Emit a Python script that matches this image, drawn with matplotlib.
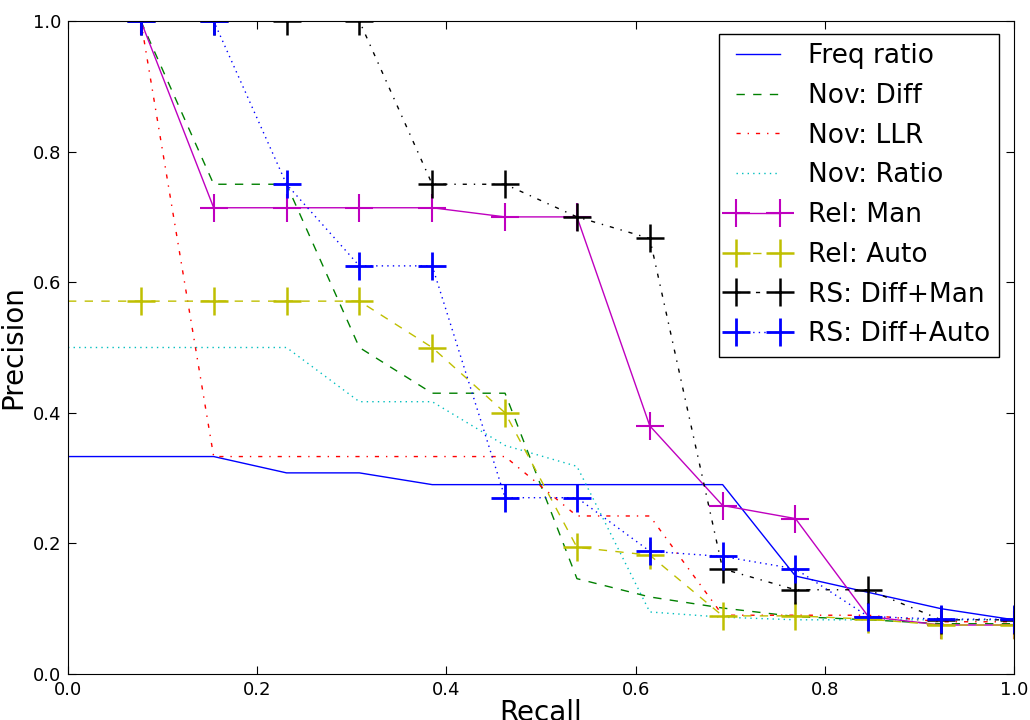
#!/usr/bin/env python

import matplotlib
matplotlib.use('agg')
import matplotlib.pyplot as plt

plt.rcParams['font.family'] = ['DejaVu Sans']
plt.rcParams['lines.scale_dashes'] = False
plt.rcParams['lines.dashed_pattern'] = [6, 6]
plt.rcParams['lines.dashdot_pattern'] = [3, 5, 1, 5]
plt.rcParams['lines.dotted_pattern'] = [1, 3]

# recall levels (13 relevant items)
recall = [0.0, 0.077, 0.154, 0.231, 0.308, 0.385, 0.462,
          0.538, 0.615, 0.692, 0.769, 0.846, 0.923, 1.0]

freq_ratio = [0.333, 0.333, 0.333, 0.308, 0.308, 0.29, 0.29,
              0.29, 0.29, 0.29, 0.15, 0.125, 0.1, 0.083]
nov_ratio = [0.5, 0.5, 0.5, 0.5, 0.417, 0.417, 0.35,
             0.318, 0.095, 0.087, 0.083, 0.083, 0.083, 0.083]
rel_auto = [0.571, 0.571, 0.571, 0.571, 0.571, 0.5, 0.4,
            0.194, 0.182, 0.089, 0.089, 0.084, 0.075, 0.075]

# these start at the first recall level
nov_diff = [1.0, 0.75, 0.75, 0.5, 0.43, 0.43,
            0.146, 0.118, 0.101, 0.088, 0.083, 0.077, 0.077]
nov_llr = [1.0, 0.333, 0.333, 0.333, 0.333, 0.333,
           0.242, 0.242, 0.09, 0.09, 0.09, 0.08, 0.08]
rel_man = [1.0, 0.714, 0.714, 0.714, 0.714, 0.7,
           0.7, 0.38, 0.258, 0.238, 0.088, 0.075, 0.075]
rs_man = [1.0, 1.0, 1.0, 1.0, 0.75, 0.75,
          0.7, 0.667, 0.161, 0.129, 0.129, 0.083, 0.083]
rs_auto = [1.0, 1.0, 0.75, 0.625, 0.625, 0.27,
           0.27, 0.188, 0.18, 0.161, 0.088, 0.084, 0.084]

fig = plt.figure(figsize=(10.3, 7.2), dpi=100, facecolor='white')
ax = fig.add_axes([68 / 1030., 1 - 674 / 720., 946 / 1030., 653 / 720.])

r1 = recall[1:]
ms = 20
ax.plot(recall, freq_ratio, color='b', ls='-', lw=1, label='Freq ratio')
ax.plot(r1, nov_diff, color=(0, 0.5, 0), ls='--', lw=1, label='Nov: Diff')
ax.plot(r1, nov_llr, color='r', ls='-.', lw=1, label='Nov: LLR')
ax.plot(recall, nov_ratio, color=(0, 0.75, 0.75), ls=':', lw=1, label='Nov: Ratio')
ax.plot(r1, rel_man, color=(0.75, 0, 0.75), ls='-', lw=1, marker='+',
        ms=ms, mew=1.5, label='Rel: Man')
ax.plot(recall, rel_auto, color=(0.75, 0.75, 0), ls='--', lw=1, marker='+',
        ms=ms, mew=1.8, markevery=list(range(1, len(recall))), label='Rel: Auto')
ax.plot(r1, rs_man, color='k', ls='-.', lw=1, marker='+',
        ms=ms, mew=1.8, label='RS: Diff+Man')
ax.plot(r1, rs_auto, color='b', ls=':', lw=1, marker='+',
        ms=ms, mew=2, label='RS: Diff+Auto')

ax.set_xlim(0, 1)
ax.set_ylim(0, 1)
ax.set_xticks([0.0, 0.2, 0.4, 0.6, 0.8, 1.0])
ax.set_yticks([0.0, 0.2, 0.4, 0.6, 0.8, 1.0])
ax.tick_params(direction='in', top=True, right=True, length=6, labelsize=13, pad=5)
ax.set_xlabel('Recall', fontsize=20, labelpad=0)
ax.set_ylabel('Precision', fontsize=20, labelpad=4)

leg = ax.legend(loc='upper right', bbox_to_anchor=(999 / 1030., 1 - 34 / 720.),
                bbox_transform=fig.transFigure, borderaxespad=0, fontsize=19,
                numpoints=2, handlelength=2.25, handletextpad=0.75,
                borderpad=0.35, labelspacing=0.52, fancybox=False,
                framealpha=1, edgecolor='black')
leg.get_frame().set_linewidth(1)

fig.savefig('out.png', dpi=100, facecolor='white')
